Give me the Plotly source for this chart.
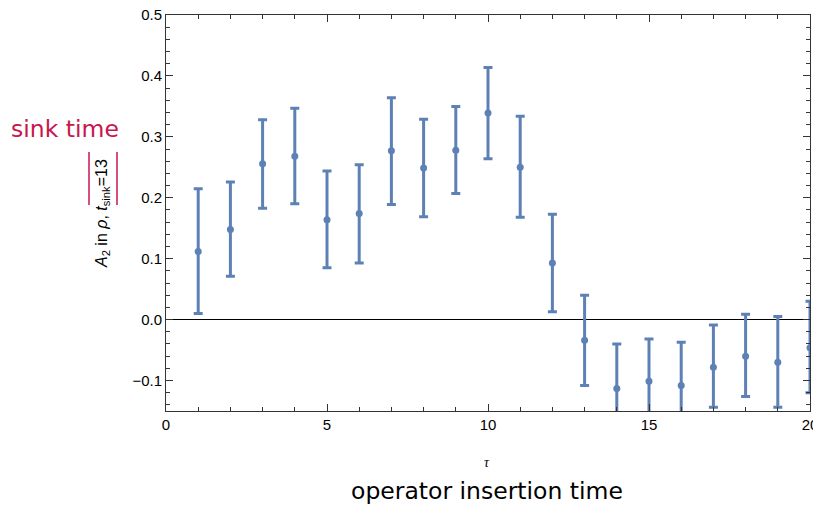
import plotly.graph_objects as go

tau = [1, 2, 3, 4, 5, 6, 7, 8, 9, 10, 11, 12, 13, 14, 15, 16, 17, 18, 19, 20]
a2 = [0.112, 0.148, 0.256, 0.268, 0.164, 0.174, 0.277, 0.249, 0.278, 0.339,
      0.250, 0.093, -0.034, -0.113, -0.101, -0.108, -0.078, -0.060, -0.070, -0.046]
err_hi = [0.215, 0.226, 0.328, 0.347, 0.244, 0.254, 0.364, 0.329, 0.350, 0.414,
          0.334, 0.173, 0.040, -0.040, -0.032, -0.037, -0.009, 0.009, 0.005, 0.030]
err_lo = [0.010, 0.071, 0.183, 0.190, 0.085, 0.093, 0.189, 0.169, 0.207, 0.264,
          0.168, 0.013, -0.108, -0.186, -0.170, -0.179, -0.144, -0.126, -0.144, -0.120]

plus = [h - v for h, v in zip(err_hi, a2)]
minus = [v - l for v, l in zip(a2, err_lo)]

color = "#5E81B5"

fig = go.Figure()
fig.add_trace(go.Scatter(
    x=tau, y=a2, mode="markers",
    marker=dict(color=color, size=7),
    error_y=dict(type="data", symmetric=False, array=plus, arrayminus=minus,
                 color=color, thickness=3, width=4.5),
    showlegend=False,
))

axis_common = dict(
    showline=True, linecolor="#333", linewidth=1, mirror="ticks",
    ticks="inside", tickcolor="#333", ticklen=7, tickwidth=1,
    showgrid=False, automargin=False, ticklabeloverflow="allow",
    tickfont=dict(family="Liberation Sans, Arial", size=15, color="black"),
)

fig.update_xaxes(range=[0, 20], tickvals=[0, 5, 10, 15, 20],
                 minor=dict(dtick=1, ticklen=4, ticks="inside", tickcolor="#333", showgrid=False),
                 zeroline=False, **axis_common)
fig.update_yaxes(range=[-0.15, 0.5], tickvals=[-0.1, 0.0, 0.1, 0.2, 0.3, 0.4, 0.5],
                 tickformat=".1f",
                 minor=dict(dtick=0.02, ticklen=4, ticks="inside", tickcolor="#333", showgrid=False),
                 zeroline=True, zerolinecolor="black", zerolinewidth=1,
                 **axis_common)

# page has an 8px body margin; figure sized to reach the window edges
W, H = 813, 498
L, R, T, B = 158, 11, 7, 95
pw, ph = W - L - R, H - T - B
OFF = 8

def px(x):  # screenshot x -> paper
    return (x - OFF - L) / pw

def py(y):  # screenshot y -> paper
    return 1 - (y - OFF - T) / ph

def ann(text, x, y, font, angle=0):
    return dict(text=text, x=px(x), y=py(y), xref="paper", yref="paper",
                xanchor="center", yanchor="middle", textangle=angle,
                showarrow=False, font=font)

annotations = [
    ann("<i>τ</i>", 487, 462, dict(family="Liberation Serif", size=14, color="black")),
    ann("operator insertion time", 487, 491, dict(family="DejaVu Sans", size=23.5, color="black")),
    ann("<i>A</i><sub>2</sub> in <i>ρ</i>, <i>t</i><sub>sink</sub>=13", 103, 214,
        dict(family="Liberation Sans, Arial", size=16, color="black"), angle=-90),
    ann("sink time", 65, 129, dict(family="DejaVu Sans", size=23.5, color="#C8164E")),
]

shapes = [
    dict(type="line", xref="paper", yref="paper", x0=px(89), x1=px(89), y0=py(152), y1=py(205),
         line=dict(color="#C8164E", width=1.5)),
    dict(type="line", xref="paper", yref="paper", x0=px(117), x1=px(117), y0=py(152), y1=py(205),
         line=dict(color="#C8164E", width=1.5)),
]

fig.update_layout(
    width=W, height=H,
    margin=dict(l=L, r=R, t=T, b=B),
    plot_bgcolor="white", paper_bgcolor="white",
    annotations=annotations, shapes=shapes,
)

fig.write_html("out.html")
